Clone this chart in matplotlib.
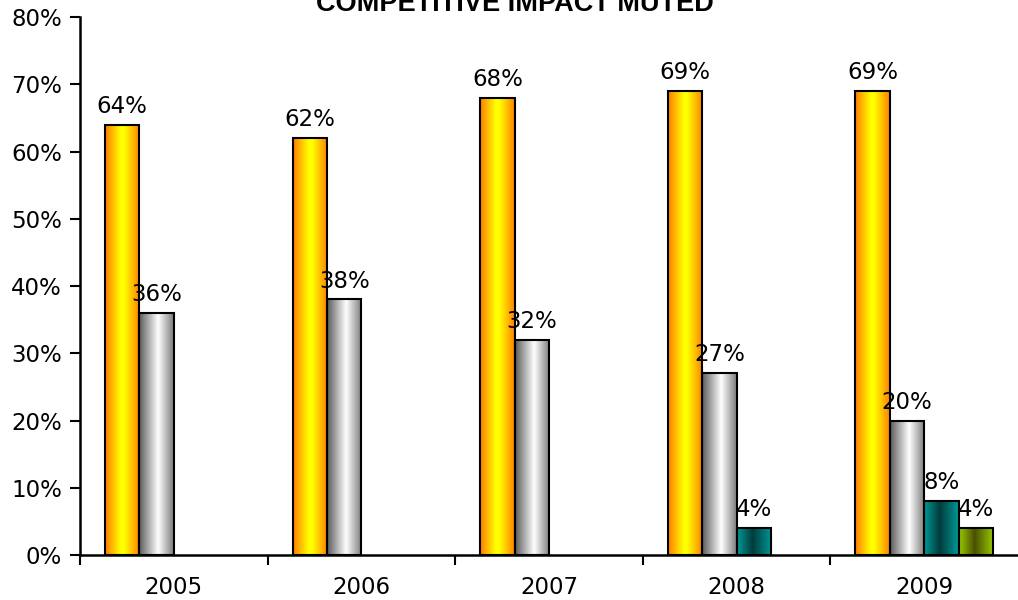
import numpy as np
import matplotlib
matplotlib.use('Agg')
import matplotlib.pyplot as plt
from matplotlib.colors import LinearSegmentedColormap
from matplotlib.ticker import FixedLocator, PercentFormatter

years = ['2005', '2006', '2007', '2008', '2009']
share_a = [64, 62, 68, 69, 69]
share_b = [36, 38, 32, 27, 20]
share_c = [np.nan, np.nan, np.nan, 4, 8]
share_d = [np.nan, np.nan, np.nan, np.nan, 4]
title = 'COMPETITIVE IMPACT MUTED'

# horizontal shading for each series: (position, colour) stops across the bar
shades = [
    [(0.0, '#ff7a00'), (0.45, '#ffff00'), (0.55, '#ffff00'), (1.0, '#ff8000')],
    [(0.0, '#5a5a5a'), (0.55, '#ffffff'), (1.0, '#7a7a7a')],
    [(0.0, '#009999'), (0.45, '#003c3c'), (1.0, '#009999')],
    [(0.0, '#99cc00'), (0.45, '#4a5000'), (1.0, '#99cc00')],
]

plt.rcParams['font.family'] = 'DejaVu Sans'
fs = 16.5
fig = plt.figure(figsize=(10.18, 6.0), dpi=100)
ax = fig.add_axes([80 / 1018, 45 / 600, 938 / 1018, 538 / 600])

x = np.arange(len(years))
w = 0.1835
series = [share_a, share_b, share_c, share_d]
grad = np.linspace(0, 1, 256).reshape(1, -1)

for i, vals in enumerate(series):
    cmap = LinearSegmentedColormap.from_list('s%d' % i, shades[i])
    offs = (i - 1.5) * w
    for xi, v in zip(x, vals):
        if np.isnan(v):
            continue
        bar = ax.bar(xi + offs, v, width=w, facecolor='none',
                     edgecolor='black', linewidth=1.5, zorder=3)[0]
        im = ax.imshow(grad, cmap=cmap, aspect='auto', zorder=2,
                       extent=[xi + offs - w / 2, xi + offs + w / 2, 0, v],
                       interpolation='bilinear')
        im.set_clip_path(bar)
        ax.annotate('%d%%' % v, (xi + offs, v), xytext=(0, 5),
                    textcoords='offset points', ha='center', va='bottom',
                    fontsize=fs, color='black', zorder=4)

ax.set_xlim(-0.5, 4.5)
ax.set_ylim(0, 80)
ax.set_yticks(np.arange(0, 81, 10))
ax.yaxis.set_major_formatter(PercentFormatter(decimals=0))
ax.set_xticks(x)
ax.set_xticklabels(years)
ax.xaxis.set_minor_locator(FixedLocator(np.arange(-0.5, 4.0, 1.0)))
ax.tick_params(axis='x', which='major', length=0, pad=15, labelsize=fs)
ax.tick_params(axis='x', which='minor', length=7, width=1.5, direction='out')
ax.tick_params(axis='y', length=7, width=1.5, direction='out', pad=6,
               labelsize=fs)

for s in ['top', 'right']:
    ax.spines[s].set_visible(False)
for s in ['left', 'bottom']:
    ax.spines[s].set_linewidth(1.8)
ax.spines['bottom'].set_zorder(5)

fig.text(515 / 1018, 1 - 11 / 600, title, ha='center', va='baseline',
         fontsize=19.5, fontweight='bold', family='Liberation Sans')

fig.savefig('out.png', dpi=100)
